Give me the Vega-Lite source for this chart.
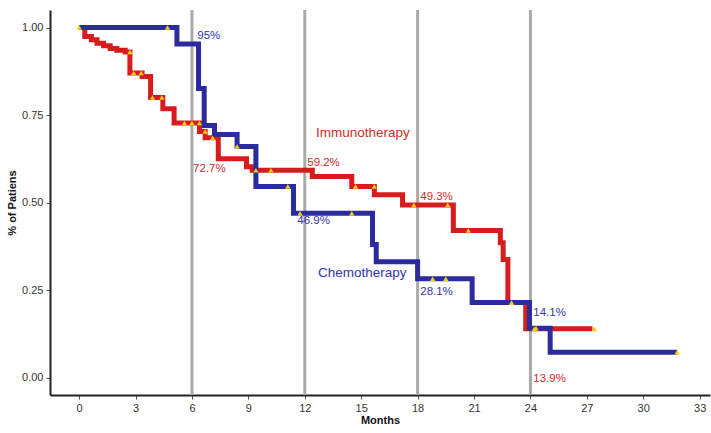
{
  "$schema": "https://vega.github.io/schema/vega-lite/v6.json",
  "width": 660,
  "height": 385,
  "autosize": "none",
  "padding": {"left": 50, "top": 10, "right": 1, "bottom": 38},
  "background": "white",
  "config": {
    "view": {"stroke": null},
    "font": "Liberation Sans",
    "axis": {"grid": false, "domainColor": "#222", "domainWidth": 2, "tickColor": "#555", "tickSize": 4, "labelColor": "#333", "labelFontSize": 11, "titleFontSize": 11, "titleFontWeight": "bold", "titleColor": "#111", "labelPadding": 3}
  },
  "datasets": {
    "curves": [
      {"group": "Chemotherapy", "t": 0, "s": 1.0},
      {"group": "Chemotherapy", "t": 5.2, "s": 0.953},
      {"group": "Chemotherapy", "t": 6.35, "s": 0.826},
      {"group": "Chemotherapy", "t": 6.65, "s": 0.72},
      {"group": "Chemotherapy", "t": 7.2, "s": 0.694},
      {"group": "Chemotherapy", "t": 8.4, "s": 0.66},
      {"group": "Chemotherapy", "t": 9.4, "s": 0.546},
      {"group": "Chemotherapy", "t": 11.4, "s": 0.469},
      {"group": "Chemotherapy", "t": 15.6, "s": 0.38},
      {"group": "Chemotherapy", "t": 15.8, "s": 0.331},
      {"group": "Chemotherapy", "t": 18.0, "s": 0.282},
      {"group": "Chemotherapy", "t": 20.9, "s": 0.214},
      {"group": "Chemotherapy", "t": 23.95, "s": 0.141},
      {"group": "Chemotherapy", "t": 25.05, "s": 0.072},
      {"group": "Chemotherapy", "t": 31.8, "s": 0.072},
      {"group": "Immunotherapy", "t": 0, "s": 1.0},
      {"group": "Immunotherapy", "t": 0.3, "s": 0.974},
      {"group": "Immunotherapy", "t": 0.65, "s": 0.965},
      {"group": "Immunotherapy", "t": 0.95, "s": 0.955},
      {"group": "Immunotherapy", "t": 1.3, "s": 0.948},
      {"group": "Immunotherapy", "t": 1.65, "s": 0.94},
      {"group": "Immunotherapy", "t": 2.0, "s": 0.935},
      {"group": "Immunotherapy", "t": 2.45, "s": 0.93},
      {"group": "Immunotherapy", "t": 2.7, "s": 0.87},
      {"group": "Immunotherapy", "t": 3.35, "s": 0.86},
      {"group": "Immunotherapy", "t": 3.8, "s": 0.8},
      {"group": "Immunotherapy", "t": 4.45, "s": 0.768},
      {"group": "Immunotherapy", "t": 5.05, "s": 0.727},
      {"group": "Immunotherapy", "t": 6.4, "s": 0.703},
      {"group": "Immunotherapy", "t": 6.7, "s": 0.685},
      {"group": "Immunotherapy", "t": 7.4, "s": 0.625},
      {"group": "Immunotherapy", "t": 8.9, "s": 0.602},
      {"group": "Immunotherapy", "t": 9.2, "s": 0.592},
      {"group": "Immunotherapy", "t": 12.4, "s": 0.574},
      {"group": "Immunotherapy", "t": 14.5, "s": 0.546},
      {"group": "Immunotherapy", "t": 15.7, "s": 0.522},
      {"group": "Immunotherapy", "t": 17.2, "s": 0.493},
      {"group": "Immunotherapy", "t": 19.9, "s": 0.42},
      {"group": "Immunotherapy", "t": 22.4, "s": 0.385},
      {"group": "Immunotherapy", "t": 22.55, "s": 0.337},
      {"group": "Immunotherapy", "t": 22.8, "s": 0.214},
      {"group": "Immunotherapy", "t": 23.75, "s": 0.139},
      {"group": "Immunotherapy", "t": 27.3, "s": 0.139}
    ],
    "censors": [
      {"group": "Chemotherapy", "t": 4.7, "s": 1.0},
      {"group": "Chemotherapy", "t": 8.4, "s": 0.66},
      {"group": "Chemotherapy", "t": 11.1, "s": 0.546},
      {"group": "Chemotherapy", "t": 11.75, "s": 0.469},
      {"group": "Chemotherapy", "t": 14.5, "s": 0.469},
      {"group": "Chemotherapy", "t": 18.8, "s": 0.282},
      {"group": "Chemotherapy", "t": 19.5, "s": 0.282},
      {"group": "Chemotherapy", "t": 24.3, "s": 0.141},
      {"group": "Chemotherapy", "t": 31.8, "s": 0.072},
      {"group": "Immunotherapy", "t": 0, "s": 1.0},
      {"group": "Immunotherapy", "t": 2.7, "s": 0.93},
      {"group": "Immunotherapy", "t": 2.9, "s": 0.87},
      {"group": "Immunotherapy", "t": 3.3, "s": 0.87},
      {"group": "Immunotherapy", "t": 3.9, "s": 0.8},
      {"group": "Immunotherapy", "t": 4.4, "s": 0.8},
      {"group": "Immunotherapy", "t": 5.6, "s": 0.727},
      {"group": "Immunotherapy", "t": 6.0, "s": 0.727},
      {"group": "Immunotherapy", "t": 6.4, "s": 0.727},
      {"group": "Immunotherapy", "t": 6.7, "s": 0.703},
      {"group": "Immunotherapy", "t": 7.1, "s": 0.685},
      {"group": "Immunotherapy", "t": 9.4, "s": 0.592},
      {"group": "Immunotherapy", "t": 10.2, "s": 0.592},
      {"group": "Immunotherapy", "t": 14.7, "s": 0.546},
      {"group": "Immunotherapy", "t": 15.7, "s": 0.546},
      {"group": "Immunotherapy", "t": 17.8, "s": 0.493},
      {"group": "Immunotherapy", "t": 19.6, "s": 0.493},
      {"group": "Immunotherapy", "t": 20.7, "s": 0.42},
      {"group": "Immunotherapy", "t": 23.0, "s": 0.214},
      {"group": "Immunotherapy", "t": 24.2, "s": 0.139},
      {"group": "Immunotherapy", "t": 27.4, "s": 0.139}
    ],
    "labels": [
      {"group": "Chemotherapy", "label": "95%", "t": 6.28, "s": 0.976, "big": 0},
      {"group": "Immunotherapy", "label": "72.7%", "t": 6.06, "s": 0.596, "big": 0},
      {"group": "Immunotherapy", "label": "59.2%", "t": 12.13, "s": 0.613, "big": 0},
      {"group": "Chemotherapy", "label": "46.9%", "t": 11.6, "s": 0.448, "big": 0},
      {"group": "Immunotherapy", "label": "Immunotherapy", "t": 12.6, "s": 0.699, "big": 1},
      {"group": "Immunotherapy", "label": "49.3%", "t": 18.14, "s": 0.516, "big": 0},
      {"group": "Chemotherapy", "label": "Chemotherapy", "t": 12.7, "s": 0.3, "big": 1},
      {"group": "Chemotherapy", "label": "28.1%", "t": 18.14, "s": 0.245, "big": 0},
      {"group": "Chemotherapy", "label": "14.1%", "t": 24.15, "s": 0.185, "big": 0},
      {"group": "Immunotherapy", "label": "13.9%", "t": 24.15, "s": -0.003, "big": 0}
    ],
    "grid": [{"t": 6}, {"t": 12}, {"t": 18}, {"t": 24}]
  },
  "layer": [
    {
      "data": {"name": "grid"},
      "mark": {"type": "rule", "color": "#aaaaaa", "strokeWidth": 3},
      "encoding": {
        "x": {"field": "t", "type": "quantitative", "scale": {"domain": [-1.55, 33.55], "nice": false, "zero": false}, "axis": {"values": [0, 3, 6, 9, 12, 15, 18, 21, 24, 27, 30, 33], "title": "Months", "titlePadding": 1}}
      }
    },
    {
      "data": {"name": "curves"},
      "transform": [{"filter": "datum.group === 'Immunotherapy'"}],
      "mark": {"type": "line", "interpolate": "step-after", "color": "#d61c1c", "strokeWidth": 5},
      "encoding": {
        "x": {"field": "t", "type": "quantitative", "scale": {"domain": [-1.55, 33.55], "nice": false, "zero": false}, "axis": {"values": [0, 3, 6, 9, 12, 15, 18, 21, 24, 27, 30, 33], "title": "Months", "titlePadding": 1}},
        "y": {"field": "s", "type": "quantitative", "scale": {"domain": [-0.05, 1.05], "nice": false, "zero": false}, "axis": {"values": [0, 0.25, 0.5, 0.75, 1], "format": ".2f", "title": "% of Patiens", "titlePadding": 4}}
      }
    },
    {
      "data": {"name": "curves"},
      "transform": [{"filter": "datum.group === 'Chemotherapy'"}],
      "mark": {"type": "line", "interpolate": "step-after", "color": "#2b2b9e", "strokeWidth": 5},
      "encoding": {
        "x": {"field": "t", "type": "quantitative", "scale": {"domain": [-1.55, 33.55], "nice": false, "zero": false}, "axis": {"values": [0, 3, 6, 9, 12, 15, 18, 21, 24, 27, 30, 33], "title": "Months", "titlePadding": 1}},
        "y": {"field": "s", "type": "quantitative", "scale": {"domain": [-0.05, 1.05], "nice": false, "zero": false}, "axis": {"values": [0, 0.25, 0.5, 0.75, 1], "format": ".2f", "title": "% of Patiens", "titlePadding": 4}}
      }
    },
    {
      "data": {"name": "censors"},
      "mark": {"type": "point", "shape": "triangle-up", "filled": true, "color": "#f2d20c", "size": 28, "opacity": 1},
      "encoding": {
        "x": {"field": "t", "type": "quantitative", "scale": {"domain": [-1.55, 33.55], "nice": false, "zero": false}, "axis": {"values": [0, 3, 6, 9, 12, 15, 18, 21, 24, 27, 30, 33], "title": "Months", "titlePadding": 1}},
        "y": {"field": "s", "type": "quantitative", "scale": {"domain": [-0.05, 1.05], "nice": false, "zero": false}, "axis": {"values": [0, 0.25, 0.5, 0.75, 1], "format": ".2f", "title": "% of Patiens", "titlePadding": 4}}
      }
    },
    {
      "data": {"name": "labels"},
      "mark": {"type": "text", "align": "left", "baseline": "middle"},
      "encoding": {
        "x": {"field": "t", "type": "quantitative", "scale": {"domain": [-1.55, 33.55], "nice": false, "zero": false}, "axis": {"values": [0, 3, 6, 9, 12, 15, 18, 21, 24, 27, 30, 33], "title": "Months", "titlePadding": 1}},
        "y": {"field": "s", "type": "quantitative", "scale": {"domain": [-0.05, 1.05], "nice": false, "zero": false}, "axis": {"values": [0, 0.25, 0.5, 0.75, 1], "format": ".2f", "title": "% of Patiens", "titlePadding": 4}},
        "text": {"field": "label"},
        "color": {"field": "group", "type": "nominal", "scale": {"domain": ["Immunotherapy", "Chemotherapy"], "range": ["#d42a2a", "#3434ae"]}, "legend": null},
        "size": {"field": "big", "type": "quantitative", "scale": {"domain": [0, 1], "range": [11.5, 13.5]}, "legend": null}
      }
    }
  ]
}
